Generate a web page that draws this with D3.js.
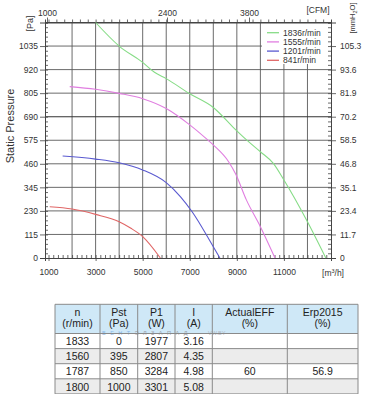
<!DOCTYPE html>
<html><head><meta charset="utf-8">
<script src="https://cdn.jsdelivr.net/npm/d3@7"></script>
<style>
body{margin:0;background:#fff;}
svg{display:block;font-family:"Liberation Sans",Arial,sans-serif;}
</style></head>
<body><svg id="c" width="371" height="394"></svg>
<script>
// ---- data ----
const seriesNames = ["1836r/min","1555r/min","1201r/min","841r/min"];
const seriesColors = ["#86dc86","#e07ee0","#5a5ad0","#e06666"];
const green = [[3000,1150],[4000,1035],[5000,955],[5500,907],[6000,876],[7000,802],[8000,735],[8900,632],[9400,578],[10000,519],[10550,462],[11000,381],[12000,177],[12780,0]];
const magenta = [[1900,837],[3000,824],[4000,804],[5000,778],[6000,730],[7000,650],[7650,588],[8000,552],[8650,470],[8950,410],[9400,285],[10000,153],[10620,0]];
const blue = [[1600,498],[3000,483],[4000,465],[5000,430],[6000,368],[6600,300],[7100,226],[8000,55],[8280,0]];
const red = [[1050,250],[2000,239],[3000,213],[4000,177],[4500,145],[5000,104],[5750,0]];
const series = [green, magenta, blue, red];

const xTickLabels = [1000,3000,5000,7000,9000,11000];
const xGrid = [2000,3000,4000,5000,6000,7000,8000,9000,10000,11000,12000];
const yTicks = [0,115,230,345,460,575,690,805,920,1035];
const yRightTicks = [0,11.7,23.4,35.1,46.8,58.5,70.2,81.9,93.6,105.3];
const cfmTicks = [1000,2400,3800];

const tableHeader = [["n","(r/min)"],["Pst","(Pa)"],["P1","(W)"],["I","(A)"],["ActualEFF","(%)"],["Erp2015","(%)"]];
const tableRows = [
  ["1833","0","1977","3.16","",""],
  ["1560","395","2807","4.35","",""],
  ["1787","850","3284","4.98","60","56.9"],
  ["1800","1000","3301","5.08","",""]
];

// ---- layout ----
const L=45, R=331, T=22.5, B=258;
const svg = d3.select("#c");
const x = d3.scaleLinear().domain([850,13000]).range([L,R]);
const y = d3.scaleLinear().domain([0,1150]).range([B,T]);
const yR = d3.scaleLinear().domain([0,117]).range([B,T]);
const xTop = d3.scaleLinear().domain(cfmTicks).range([47,167,249]);

const g = svg.append("g");
// grid
g.selectAll("line.vg").data(xGrid).join("line")
  .attr("x1",d=>x(d)).attr("x2",d=>x(d)).attr("y1",T).attr("y2",B)
  .attr("stroke","#5a5a5a").attr("stroke-width",0.9);
g.selectAll("line.hg").data(yTicks.filter(d=>d>0)).join("line")
  .attr("x1",L).attr("x2",R).attr("y1",d=>y(d)).attr("y2",d=>y(d))
  .attr("stroke",d=>d===690?"#333":"#5a5a5a").attr("stroke-width",d=>d===690?1.1:0.9);

// legend background (covers grid)
const legX=262, legY=23;
g.append("rect").attr("x",legX).attr("y",legY).attr("width",R-legX-0.5).attr("height",41).attr("fill","#fff");

// axes
function styleAxis(sel){
  sel.selectAll("path.domain").attr("stroke","#444").attr("stroke-width",1);
  sel.selectAll(".tick line").attr("stroke","#444").attr("stroke-width",0.8);
  sel.selectAll("text").attr("fill","#333").attr("font-size","8.5px");
}
const minorY = d3.range(0,1150.1,23);
const minorYR = d3.range(0,117.01,2.34);
const minorX = d3.range(1000,12900,200);
const minorTop = d3.range(1000,12900,1000/3);

svg.append("g").attr("transform",`translate(${L},0)`)
  .call(d3.axisLeft(y).tickValues(minorY).tickSize(-3).tickFormat("")).call(styleAxis);
svg.append("g").attr("transform",`translate(${L},0)`)
  .call(d3.axisLeft(y).tickValues(yTicks).tickSize(5).tickPadding(2).tickFormat(d3.format("d"))).call(styleAxis);

svg.append("g").attr("transform",`translate(${R},0)`)
  .call(d3.axisRight(yR).tickValues(minorYR).tickSize(-3).tickFormat("")).call(styleAxis);
svg.append("g").attr("transform",`translate(${R},0)`)
  .call(d3.axisRight(yR).tickValues(yRightTicks).tickSize(5).tickPadding(4).tickFormat(d=>d===0?"0":d3.format(".1f")(d))).call(styleAxis);

svg.append("g").attr("transform",`translate(0,${B})`)
  .call(d3.axisBottom(x).tickValues(minorX).tickSize(-3).tickFormat("")).call(styleAxis);
svg.append("g").attr("transform",`translate(0,${B})`)
  .call(d3.axisBottom(x).tickValues(xTickLabels).tickSize(3).tickPadding(8).tickFormat(d3.format("d"))).call(styleAxis);

svg.append("g").attr("transform",`translate(0,${T})`)
  .call(d3.axisTop(x).tickValues(minorTop).tickSize(3).tickFormat("")).call(styleAxis);
svg.append("g").attr("transform",`translate(0,${T})`)
  .call(d3.axisTop(xTop).tickValues(cfmTicks).tickSize(5).tickPadding(2).tickFormat(d3.format("d"))).call(styleAxis)
  .call(s=>s.select("path.domain").remove());
svg.append("line").attr("x1",L).attr("x2",R).attr("y1",T).attr("y2",T).attr("stroke","#444");

// curves
const line = d3.line().x(d=>x(d[0])).y(d=>y(d[1])).curve(d3.curveMonotoneX);
svg.append("g").selectAll("path").data(series).join("path")
  .attr("d",line).attr("fill","none")
  .attr("stroke",(d,i)=>seriesColors[i]).attr("stroke-width",1.1);

// legend
const leg = svg.append("g");
seriesNames.forEach((n,i)=>{
  const yy = 32.7 + i*9.2;
  leg.append("line").attr("x1",267).attr("x2",279).attr("y1",yy).attr("y2",yy)
    .attr("stroke",seriesColors[i]).attr("stroke-width",1.3);
  leg.append("text").attr("x",283).attr("y",yy+3).attr("font-size","8.5px").attr("fill","#333").text(n);
});

// axis titles
svg.append("text").attr("transform","translate(33,23.5) rotate(-90)").attr("text-anchor","middle")
  .attr("font-size","9px").attr("fill","#333").text("[Pa]");
svg.append("text").attr("transform","translate(14,126) rotate(-90)").attr("text-anchor","middle")
  .attr("font-size","11px").attr("fill","#333").text("Static Pressure");
const mm = svg.append("text").attr("transform","translate(355,18) rotate(-90)").attr("text-anchor","middle")
  .attr("font-size","7.5px").attr("fill","#333");
mm.append("tspan").text("[mmH");
mm.append("tspan").attr("font-size","5.5px").attr("dy","2").text("2");
mm.append("tspan").attr("dy","-2").text("O]");
svg.append("text").attr("x",318).attr("y",13).attr("text-anchor","middle")
  .attr("font-size","8.5px").attr("fill","#333").text("[CFM]");
const mh = svg.append("text").attr("x",333).attr("y",276).attr("text-anchor","middle")
  .attr("font-size","8.5px").attr("fill","#333");
mh.append("tspan").text("[m");
mh.append("tspan").attr("font-size","5.5px").attr("dy","-3").text("3");
mh.append("tspan").attr("dy","3").text("/h]");

// ---- table ----
const colX = [55,100,137.7,175,212.3,287.3,358];
const headTop = 304.3, headBot = 333.5, rowH = 15.1;
const tb = svg.append("g").attr("font-size","10.5px").attr("fill","#222");
tb.append("rect").attr("x",colX[0]).attr("y",headTop).attr("width",colX[6]-colX[0]).attr("height",headBot-headTop).attr("fill","#cfe8f7");
tableRows.forEach((r,i)=>{
  tb.append("rect").attr("x",colX[0]).attr("y",headBot+i*rowH).attr("width",colX[6]-colX[0]).attr("height",rowH)
    .attr("fill", i%2===1?"#ececec":"#fff");
});
// watermark
const wm = tb.append("text").attr("x",102).attr("y",334.6).attr("font-size","5.5px").attr("letter-spacing","4.5px");
wm.append("tspan").attr("fill","#8ab8e6").text("ВЕНТ");
wm.append("tspan").attr("fill","#9aa0a8").text("ЭЛЗАПАД");
tb.append("text").attr("x",208).attr("y",334.6).attr("font-size","5.5px").attr("fill","#b0b8c4").text("VW.BY");

// borders
const hLines = [headTop, headBot].concat(tableRows.map((r,i)=>headBot+(i+1)*rowH));
tb.selectAll("line.h").data(hLines).join("line")
  .attr("x1",colX[0]).attr("x2",colX[6]).attr("y1",d=>d).attr("y2",d=>d)
  .attr("stroke","#8a8a8a").attr("stroke-width",1);
tb.selectAll("line.v").data(colX).join("line")
  .attr("x1",d=>d).attr("x2",d=>d).attr("y1",headTop).attr("y2",headBot+tableRows.length*rowH)
  .attr("stroke","#8a8a8a").attr("stroke-width",1);
tableHeader.forEach((h,j)=>{
  const cx=(colX[j]+colX[j+1])/2;
  tb.append("text").attr("x",cx).attr("y",315.5).attr("text-anchor","middle").text(h[0]);
  tb.append("text").attr("x",cx).attr("y",327).attr("text-anchor","middle").text(h[1]);
});
tableRows.forEach((r,i)=>{
  r.forEach((v,j)=>{
    const cx=(colX[j]+colX[j+1])/2;
    tb.append("text").attr("x",cx).attr("y",headBot+i*rowH+rowH/2+4.2).attr("text-anchor","middle").text(v);
  });
});
</script></body></html>
